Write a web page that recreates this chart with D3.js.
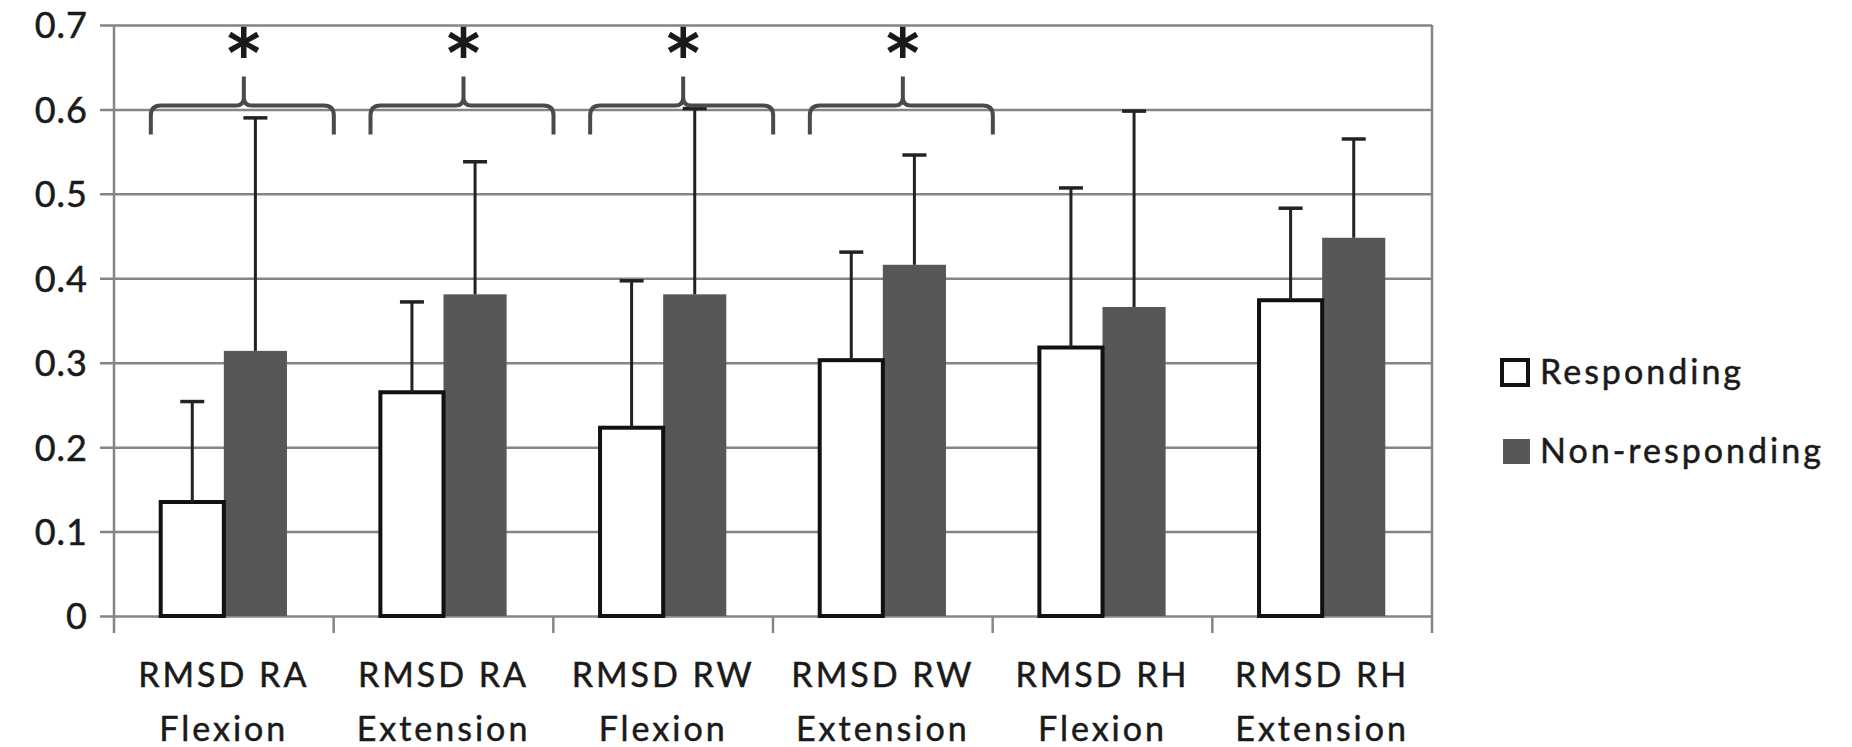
<!DOCTYPE html>
<html>
<head>
<meta charset="utf-8">
<script src="https://cdn.jsdelivr.net/npm/d3@7"></script>
<style>
  body { margin: 0; background: #fff; }
  text { font-family: Lato, "Open Sans", sans-serif; fill: #1a1a1a; stroke: #1a1a1a; stroke-width: 0.5px; }
</style>
</head>
<body>
<svg id="chart" width="1852" height="747"></svg>
<script>
var categories = ["RMSD RA|Flexion", "RMSD RA|Extension", "RMSD RW|Flexion",
                  "RMSD RW|Extension", "RMSD RH|Flexion", "RMSD RH|Extension"];
var seriesNames = ["Responding", "Non-responding"];
var responding = [0.135, 0.265, 0.223, 0.303, 0.318, 0.374];
var respondingSD = [0.119, 0.107, 0.174, 0.128, 0.189, 0.109];
var nonResponding = [0.314, 0.381, 0.381, 0.416, 0.366, 0.448];
var nonRespondingSD = [0.276, 0.157, 0.220, 0.130, 0.232, 0.117];
var significant = [true, true, true, true, false, false];
var yTicks = [0, 0.1, 0.2, 0.3, 0.4, 0.5, 0.6, 0.7];

var svg = d3.select("#chart"),
    margin = {top: 25, right: 420, bottom: 131, left: 114},
    width = +svg.attr("width") - margin.left - margin.right,
    height = +svg.attr("height") - margin.top - margin.bottom;

var rows = [];
categories.forEach(function(c, i) {
    rows.push({cat: c, s: "Non-responding", v: nonResponding[i], sd: nonRespondingSD[i]});
    rows.push({cat: c, s: "Responding", v: responding[i], sd: respondingSD[i]});
});

var x0 = d3.scaleBand().domain(categories).range([0, width]);
var x1 = d3.scaleBand().domain(seriesNames).range([0, x0.bandwidth()]).paddingOuter(0.74);
var y = d3.scaleLinear().domain([0, 0.7]).range([height, 0]);

var g = svg.append("g")
    .attr("transform", "translate(" + margin.left + "," + margin.top + ")");

// grid + y axis
g.append("g")
    .attr("class", "y axis")
    .call(d3.axisLeft(y).tickValues(yTicks).tickSizeInner(-width).tickSizeOuter(0).tickPadding(26)
          .tickFormat(function(d) { return d === 0 ? "0" : d3.format(".1f")(d); }))
    .call(function(a) {
        a.select(".domain").remove();
        a.selectAll("line").attr("stroke", "#858585").attr("stroke-width", 2.5)
            .attr("x1", -14);
        a.selectAll("text").style("font-size", "36px").attr("dy", "0.36em").attr("letter-spacing", 1);
    });

// plot border (left and right)
g.append("line").attr("x1", 0).attr("x2", 0).attr("y1", 0).attr("y2", height + 17)
    .attr("stroke", "#858585").attr("stroke-width", 2.5);
g.append("line").attr("x1", width).attr("x2", width).attr("y1", 0).attr("y2", height + 17)
    .attr("stroke", "#858585").attr("stroke-width", 2.5);

// category ticks
g.selectAll(".ctick")
    .data(categories.slice(1))
  .enter().append("line")
    .attr("x1", function(d) { return x0(d); })
    .attr("x2", function(d) { return x0(d); })
    .attr("y1", height).attr("y2", height + 17)
    .attr("stroke", "#858585").attr("stroke-width", 2.5);

// category labels
g.selectAll(".clabel")
    .data(categories)
  .enter().append("text")
    .attr("text-anchor", "middle")
    .attr("transform", function(d) { return "translate(" + (x0(d) + x0.bandwidth() / 2) + "," + (height + 71) + ")"; })
    .style("font-size", "34px")
    .attr("letter-spacing", 3)
    .each(function(d) {
        var parts = d.split("|");
        d3.select(this).selectAll("tspan").data(parts).enter().append("tspan")
            .attr("x", 0).attr("dy", function(p, i) { return i === 0 ? 0 : 54; })
            .text(function(p) { return p; });
    });

// bars
g.selectAll(".bar")
    .data(rows)
  .enter().append("rect")
    .attr("class", "bar")
    .attr("x", function(d) { return x0(d.cat) + x1(d.s); })
    .attr("width", x1.bandwidth())
    .attr("y", function(d) { return y(d.v); })
    .attr("height", function(d) { return height - y(d.v); })
    .attr("fill", function(d) { return d.s === "Responding" ? "#fff" : "#575757"; })
    .attr("stroke", function(d) { return d.s === "Responding" ? "#111" : "none"; })
    .attr("stroke-width", 4);

// error bars (upper only)
var eb = g.selectAll(".err").data(rows).enter().append("g").attr("class", "err");
eb.append("line")
    .attr("x1", function(d) { return x0(d.cat) + x1(d.s) + x1.bandwidth() / 2; })
    .attr("x2", function(d) { return x0(d.cat) + x1(d.s) + x1.bandwidth() / 2; })
    .attr("y1", function(d) { return y(d.v); })
    .attr("y2", function(d) { return y(d.v + d.sd); })
    .attr("stroke", "#222").attr("stroke-width", 3);
eb.append("line")
    .attr("x1", function(d) { return x0(d.cat) + x1(d.s) + x1.bandwidth() / 2 - 12; })
    .attr("x2", function(d) { return x0(d.cat) + x1(d.s) + x1.bandwidth() / 2 + 12; })
    .attr("y1", function(d) { return y(d.v + d.sd); })
    .attr("y2", function(d) { return y(d.v + d.sd); })
    .attr("stroke", "#222").attr("stroke-width", 3.5);

// significance braces
var sigCats = categories.filter(function(c, i) { return significant[i]; });
var braceY = y(0.6) - 4;
function bracePath(c) {
    var mid = x0(c) + x0.bandwidth() / 2,
        l = mid - 73, r = mid + 110, t = mid + 20;
    return "M" + l + "," + (braceY + 29) + "L" + l + "," + (braceY + 10) +
        "Q" + l + "," + braceY + " " + (l + 10) + "," + braceY +
        "L" + (t - 8) + "," + braceY + "Q" + t + "," + braceY + " " + t + "," + (braceY - 8) +
        "L" + t + "," + (braceY - 29) +
        "M" + t + "," + (braceY - 8) + "Q" + t + "," + braceY + " " + (t + 8) + "," + braceY +
        "L" + (r - 10) + "," + braceY + "Q" + r + "," + braceY + " " + r + "," + (braceY + 10) +
        "L" + r + "," + (braceY + 29);
}
g.selectAll(".brace")
    .data(sigCats)
  .enter().append("path")
    .attr("d", bracePath)
    .attr("fill", "none").attr("stroke", "#4a4a4a").attr("stroke-width", 4);

g.selectAll(".star")
    .data(sigCats)
  .enter().append("text")
    .attr("x", function(c) { return x0(c) + x0.bandwidth() / 2 + 20; })
    .attr("y", braceY - 30)
    .attr("text-anchor", "middle")
    .style("font-family", "'DejaVu Sans', sans-serif")
    .style("font-size", "64px")
    .style("stroke-width", "2px")
    .text("*");

// legend
var legend = svg.append("g").attr("transform", "translate(1500,0)");
var items = legend.selectAll(".item").data(seriesNames).enter().append("g")
    .attr("transform", function(d, i) { return "translate(0," + (i === 0 ? 372 : 451) + ")"; });
items.append("rect")
    .attr("x", function(d) { return d === "Responding" ? 2 : 3; })
    .attr("y", -12).attr("width", function(d) { return d === "Responding" ? 26 : 27; })
    .attr("height", 25)
    .attr("fill", function(d) { return d === "Responding" ? "#fff" : "#575757"; })
    .attr("stroke", function(d) { return d === "Responding" ? "#111" : "none"; })
    .attr("stroke-width", 4);
items.append("text")
    .attr("x", 40).attr("dy", "0.36em")
    .style("font-size", "34px")
    .attr("letter-spacing", 3)
    .text(function(d) { return d; });
</script>
</body>
</html>
